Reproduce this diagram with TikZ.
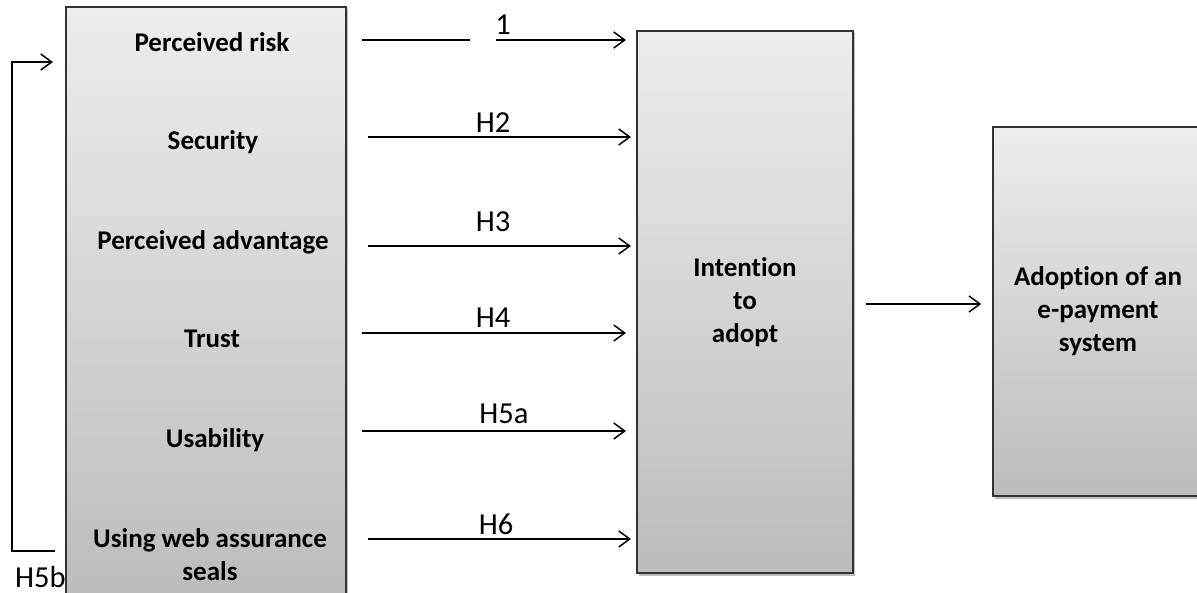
\documentclass[tikz,border=0pt]{standalone}
\usepackage{fontspec}
\setmainfont{Carlito}[Ligatures=NoCommon]
\usetikzlibrary{arrows.meta,shadows}
\definecolor{boxtop}{HTML}{EDEDED}
\definecolor{boxbot}{HTML}{BCBCBC}
\definecolor{boxline}{HTML}{333333}
\begin{document}
\begin{tikzpicture}[x=1pt,y=-1pt,
 panel/.style={draw=boxline, line width=1.5pt, top color=boxtop, bottom color=boxbot, inner sep=0pt,
   drop shadow={shadow xshift=1.5pt,shadow yshift=-2.5pt,opacity=0.25,fill=black}},
 boxtext/.style={font=\fontsize{27}{33}\selectfont\bfseries, align=center},
 factor/.style={boxtext, anchor=base},
 hlabel/.style={font=\fontsize{30.5}{33}\selectfont, anchor=base},
 plain/.style={line width=1.5pt},
 link/.style={line width=1.5pt, -{Straight Barb[length=11pt,width=16pt,line width=1.5pt]}},
]
\useasboundingbox (0,0) rectangle (1197,593);
\clip (0,0) rectangle (1197,593);

% boxes
\node[panel, minimum width=280pt, minimum height=592pt] (fac) at (206,303) {};
\node[panel, boxtext, minimum width=216pt, minimum height=542pt] (int) at (745,302) {Intention\\to\\adopt};
\node[panel, boxtext, minimum width=210pt, minimum height=369pt] (ado) at (1098,311.5) {Adoption of an\\e-payment\\system};

% factor texts
\node[factor] (t1) at (212,52) {Perceived risk};
\node[factor] (t2) at (213,150) {Security};
\node[factor] (t3) at (213,250) {Perceived advantage};
\node[factor] (t4) at (212,348) {Trust};
\node[factor] (t5) at (215,448) {Usability};
\node[factor] (t6) at (210,580) {Using web assurance\\seals};

% arrow coordinates
\coordinate (s1) at (362,40);  \coordinate (g1) at (470,40);
\coordinate (g1b) at (496,40); \coordinate (e1) at (626,40);
\coordinate (s2) at (368,137); \coordinate (e2) at (631,137);
\coordinate (s3) at (368,246); \coordinate (e3) at (631,246);
\coordinate (s4) at (362,333); \coordinate (e4) at (626,333);
\coordinate (s5) at (362,431); \coordinate (e5) at (626,431);
\coordinate (s6) at (368,539); \coordinate (e6) at (631,539);
\coordinate (hb) at (55,551);  \coordinate (hc) at (12,551);
\coordinate (hd) at (12,62);   \coordinate (ht) at (53,62);

\draw[plain] (s1) -- (g1);
\draw[link] (g1b) -- (e1);
\draw[link] (s2) -- (e2);
\draw[link] (s3) -- (e3);
\draw[link] (s4) -- (e4);
\draw[link] (s5) -- (e5);
\draw[link] (s6) -- (e6);
\draw[link] ([xshift=12pt,yshift=-2pt]int.east) -- ([xshift=-11pt,yshift=-2pt]int.east -| ado.west);
\draw[link] (hb) -- (hc) -- (hd) -- (ht);

% labels
\node[hlabel] (l1) at (503,35) {1};
\node[hlabel] (l2) at (493,133) {H2};
\node[hlabel] (l3) at (493,232) {H3};
\node[hlabel] (l4) at (493,328) {H4};
\node[hlabel] (l5) at (504,424) {H5a};
\node[hlabel] (l6) at (496,534) {H6};
\node[hlabel, anchor=base west, inner sep=0pt, text depth=0pt] (l7) at (15,587) {H5b};
\end{tikzpicture}
\end{document}
